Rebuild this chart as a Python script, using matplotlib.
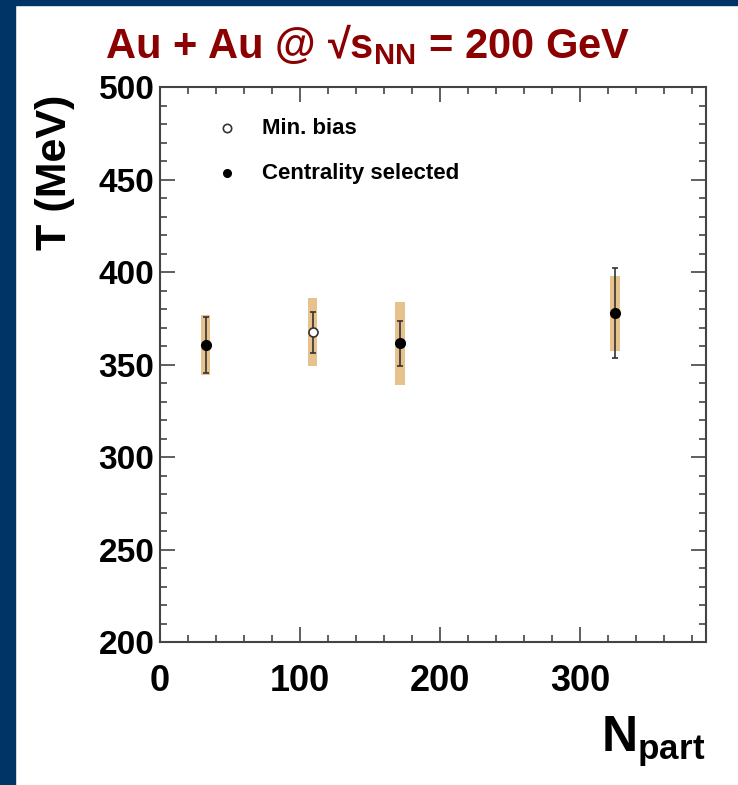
import matplotlib
matplotlib.use('Agg')
import matplotlib.pyplot as plt
from matplotlib.patches import Rectangle
from matplotlib.ticker import MultipleLocator

plt.rcParams['font.family'] = ['Liberation Sans', 'DejaVu Sans']
plt.rcParams['font.weight'] = 'bold'
plt.rcParams['mathtext.fontset'] = 'custom'
plt.rcParams['mathtext.rm'] = 'Liberation Sans:bold'
plt.rcParams['mathtext.bf'] = 'Liberation Sans:bold'
plt.rcParams['mathtext.it'] = 'Liberation Sans:bold'
plt.rcParams['mathtext.default'] = 'rm'

# ---- data ----
legend_labels = ['Min. bias', 'Centrality selected']
npart_mb = [109.0]
T_mb = [367.4]
stat_mb = [11.0]
sys_mb = [18.4]

npart_cent = [32.6, 171.4, 325.0]
T_cent = [360.4, 361.4, 377.7]
stat_cent = [15.1, 12.2, 24.3]
sys_cent = [16.2, 22.6, 20.2]

xticks = [0, 100, 200, 300]
yticks = [200, 250, 300, 350, 400, 450, 500]

W, H = 738, 785
fig = plt.figure(figsize=(W / 100, H / 100), dpi=100)
fig.patch.set_facecolor('white')
blue = '#003366'
fig.patches.append(Rectangle((0, 0), 15 / W, 1, transform=fig.transFigure,
                             color=blue, zorder=-10))
fig.patches.append(Rectangle((0, 1 - 5 / H), 1, 5 / H, transform=fig.transFigure,
                             color=blue, zorder=-10))

ax = fig.add_axes([160 / W, 1 - 642 / H, 546 / W, 555 / H])
ax.set_xlim(0, 390)
ax.set_ylim(200, 500)

box_w = 6.8
box_col = '#e8c28c'
ax.bar(npart_cent, [2 * s for s in sys_cent],
       bottom=[t - s for t, s in zip(T_cent, sys_cent)],
       width=box_w, color=box_col, zorder=1)
ax.bar(npart_mb, [2 * s for s in sys_mb],
       bottom=[t - s for t, s in zip(T_mb, sys_mb)],
       width=box_w, color=box_col, zorder=1)

ecol = '#333333'
ax.errorbar(npart_cent, T_cent, yerr=stat_cent, fmt='o', color='black',
            ecolor=ecol, elinewidth=1.2, capsize=2.5, capthick=1.2,
            markersize=7, zorder=3)
ax.errorbar(npart_mb, T_mb, yerr=stat_mb, fmt='o', mfc='white', mec=ecol,
            mew=1.2, ecolor=ecol, elinewidth=1.2, capsize=2.5, capthick=1.2,
            markersize=6.5, zorder=3)

# legend (manual)
leg_x = (227 - 160) / 546
leg_tx = (262 - 160) / 546
leg_y = [(642 - 128) / 555, (642 - 173) / 555]
ax.plot([leg_x], [leg_y[0]], 'o', mfc='white', mec=ecol, mew=1.2, ms=6,
        transform=ax.transAxes, clip_on=False)
ax.plot([leg_x], [leg_y[1]], 'o', color='black', ms=5.5,
        transform=ax.transAxes, clip_on=False)
for lab, yy in zip(legend_labels, leg_y):
    ax.text(leg_tx, yy, lab, transform=ax.transAxes, fontsize=16,
            fontweight='bold', va='center', ha='left')

# axes styling
for s in ax.spines.values():
    s.set_color('#444444')
    s.set_linewidth(1.5)
ax.set_xticks(xticks)
ax.set_yticks(yticks)
ax.xaxis.set_minor_locator(MultipleLocator(20))
ax.yaxis.set_minor_locator(MultipleLocator(10))
ax.tick_params(which='both', direction='in', top=True, right=True,
               color='#444444', width=1.2)
ax.tick_params(which='major', length=11)
ax.tick_params(which='minor', length=5)
ax.tick_params(axis='x', which='major', labelsize=26, pad=16)
ax.tick_params(axis='y', which='major', labelsize=24, pad=4)
for lab in ax.get_xticklabels() + ax.get_yticklabels():
    lab.set_fontweight('bold')

fig.text(55 / W, 1 - 172 / H, 'T (MeV)', rotation=90, fontsize=31,
         fontweight='bold', ha='center', va='center')
fig.text(705 / W, 1 - 752 / H, r'N$_{\rm part}$', fontsize=36,
         fontweight='bold', ha='right', va='baseline')
fig.text(368 / W, 1 - 58 / H, r'Au + Au @ √s$_{\rm NN}$ = 200 GeV', fontsize=30,
         fontweight='bold', color='#8b0000', ha='center', va='baseline')

fig.savefig('out.png', dpi=100)
